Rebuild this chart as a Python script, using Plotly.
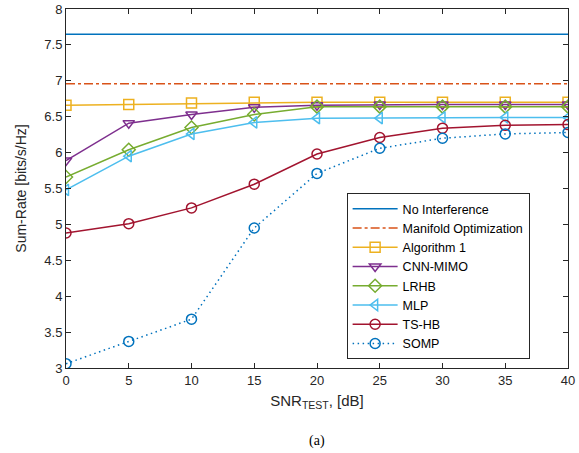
import plotly.graph_objects as go

snr = [0, 5, 10, 15, 20, 25, 30, 35, 40]
no_interference = [7.65, 7.65, 7.65, 7.66, 7.65, 7.65, 7.65, 7.65, 7.65]
manifold = [6.96, 6.96, 6.96, 6.96, 6.96, 6.96, 6.96, 6.96, 6.96]
algorithm1 = [6.66, 6.67, 6.69, 6.70, 6.70, 6.70, 6.70, 6.70, 6.70]
cnn_mimo = [5.89, 6.41, 6.53, 6.63, 6.66, 6.67, 6.67, 6.67, 6.67]
lrhb = [5.66, 6.04, 6.35, 6.53, 6.64, 6.64, 6.64, 6.64, 6.64]
mlp = [5.48, 5.95, 6.26, 6.42, 6.48, 6.48, 6.49, 6.49, 6.49]
ts_hb = [4.88, 5.01, 5.23, 5.56, 5.98, 6.21, 6.34, 6.38, 6.39]
somp = [3.06, 3.37, 3.68, 4.95, 5.71, 6.06, 6.20, 6.26, 6.28]

fig = go.Figure()

def add(name, y, color, dash="solid", symbol=None):
    mode = "lines" if symbol is None else "lines+markers"
    kw = dict(x=snr, y=y, name=name, mode=mode,
              line=dict(color=color, width=1.5, dash=dash))
    if symbol is not None:
        kw["marker"] = dict(symbol=symbol, size=10, color=color,
                            line=dict(color=color, width=1.5))
    fig.add_trace(go.Scatter(**kw))

add("No Interference", no_interference, "#0072BD")
add("Manifold Optimization", manifold, "#D95319", dash="dashdot")
add("Algorithm 1", algorithm1, "#EDB120", symbol="square-open")
add("CNN-MIMO", cnn_mimo, "#7E2F8E", symbol="triangle-down-open")
add("LRHB", lrhb, "#77AC30", symbol="diamond-open")
add("MLP", mlp, "#4DBEEE", symbol="triangle-left-open")
add("TS-HB", ts_hb, "#A2142F", symbol="circle-open")
add("SOMP", somp, "#0072BD", dash="1.5px,3.5px", symbol="circle-open")

axis_common = dict(showgrid=False, zeroline=False, showline=True, mirror="ticks",
                   linecolor="#262626", linewidth=1, ticks="inside", ticklen=5,
                   tickcolor="#262626", tickfont=dict(size=13, color="#262626"),
                   automargin=False)

fig.update_layout(
    width=579, height=453,
    margin=dict(l=66, r=11, t=9, b=85),
    paper_bgcolor="white", plot_bgcolor="white",
    font=dict(family="Liberation Sans, Arial", color="#262626"),
    xaxis=dict(range=[0, 40], tickvals=snr, ticktext=[str(v) for v in snr],
               title=dict(text="SNR<sub>TEST</sub>, [dB]", font=dict(size=15), standoff=8),
               **axis_common),
    yaxis=dict(range=[3, 8], tickvals=[3, 3.5, 4, 4.5, 5, 5.5, 6, 6.5, 7, 7.5, 8],
               ticktext=["3", "3.5", "4", "4.5", "5", "5.5", "6", "6.5", "7", "7.5", "8"],
               title=dict(text="Sum-Rate [bits/s/Hz]", font=dict(size=14), standoff=14),
               **axis_common),
    legend=dict(x=0.559, y=0.487, xanchor="left", yanchor="top",
                bgcolor="white", bordercolor="#262626", borderwidth=1,
                font=dict(size=12.5, color="#000000"), tracegroupgap=0,
                itemwidth=45),
    showlegend=True,
)

fig.add_annotation(text="(a)", xref="paper", yref="paper", x=0.5, y=-0.175,
                   xanchor="center", yanchor="top", showarrow=False,
                   font=dict(family="Liberation Serif, Times New Roman", size=14, color="black"))

fig.write_html("out.html", config={"displayModeBar": False},
               post_script="document.body.style.margin='0';document.body.style.overflow='hidden';")
